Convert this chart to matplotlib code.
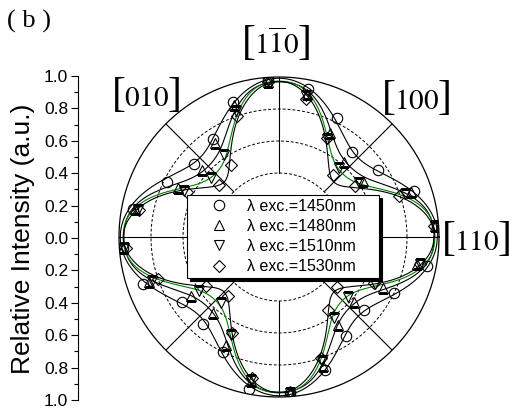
import numpy as np
import matplotlib
matplotlib.use("Agg")
import matplotlib.pyplot as plt

plt.rcParams['font.family'] = ['Liberation Sans', 'DejaVu Sans']
plt.rcParams['mathtext.fontset'] = 'stix'

# polarizer angle (deg) and relative intensities
angles = [4, 19, 34, 49, 64, 79, 94, 109, 124, 139, 154, 169,
          184, 199, 214, 229, 244, 259, 274, 289, 304, 319, 334, 349]

r_1450 = [0.99, 0.89, 0.75, 0.70, 0.83, 0.94, 0.99, 0.89, 0.74, 0.70, 0.78, 0.93,
          0.98, 0.90, 0.73, 0.72, 0.80, 0.97, 0.99, 0.88, 0.75, 0.70, 0.80, 0.94]
r_1480 = [0.98, 0.87, 0.63, 0.62, 0.72, 0.91, 0.97, 0.87, 0.71, 0.64, 0.70, 0.92,
          0.98, 0.86, 0.66, 0.63, 0.75, 0.92, 0.98, 0.85, 0.66, 0.62, 0.72, 0.88]
r_1510 = [0.98, 0.83, 0.60, 0.57, 0.68, 0.90, 0.98, 0.83, 0.62, 0.56, 0.66, 0.90,
          0.97, 0.84, 0.60, 0.55, 0.68, 0.91, 0.98, 0.82, 0.61, 0.57, 0.67, 0.90]
r_1530 = [0.97, 0.79, 0.57, 0.51, 0.69, 0.88, 0.97, 0.80, 0.54, 0.50, 0.64, 0.89,
          0.96, 0.80, 0.55, 0.49, 0.67, 0.90, 0.97, 0.80, 0.55, 0.48, 0.66, 0.90]

labels = ['λ exc.=1450nm', 'λ exc.=1480nm', 'λ exc.=1510nm', 'λ exc.=1530nm']
markers = ['o', '^', 'v', 'D']
line_colors = ['black', 'black', 'green', 'black']
dir_labels = [r'$1\overline{1}0$', '$010$', '$100$', '$110$']
dir_pos = [(277, 44), (147, 96), (417, 99), (477, 240)]

W, H = 514, 408
fig = plt.figure(figsize=(5.14, 4.08), dpi=100)

# polar frame: centre (279, 237) px, radius 160 px
cx, cy, rad = 279, 237, 160
ax = fig.add_axes([(cx - rad) / W, 1 - (cy + rad) / H, 2 * rad / W, 2 * rad / H],
                  projection='polar')
ax.set_ylim(0, 1)
ax.grid(False)
ax.set_xticklabels([])
ax.set_yticklabels([])
ax.tick_params(length=0)
ax.spines['polar'].set_linewidth(0.9)

t = np.linspace(0, 2 * np.pi, 1441)
for rr in [0.2, 0.4, 0.6, 0.8]:
    ax.plot(t, np.full_like(t, rr), ls=(0, (3, 2)), color='black', lw=0.7)
for a in range(0, 360, 45):
    ax.plot([np.radians(a)] * 2, [0.4, 1.0], color='black', lw=0.8)


def peaks(deg, w, p):
    # four peaks along the <110> axes
    g = 0
    for ax_deg in (0, 90, 180, 270, 360, -90):
        g = g + np.exp(-(np.abs(deg - ax_deg) / w) ** p)
    return g


th_deg = np.array(angles, dtype=float)
t_deg = np.degrees(t)
handles = []
for r, m, c, lab in zip([r_1450, r_1480, r_1510, r_1530], markers, line_colors, labels):
    r = np.array(r)
    best = None
    for w in np.arange(10, 40, 0.5):
        for p in np.arange(1.2, 4.01, 0.1):
            A = np.column_stack([np.ones_like(th_deg), peaks(th_deg, w, p)])
            coef, *_ = np.linalg.lstsq(A, r, rcond=None)
            err = np.sum((A @ coef - r) ** 2)
            if best is None or err < best[0]:
                best = (err, w, p, coef)
    _, w, p, coef = best
    fit = coef[0] + coef[1] * peaks(t_deg, w, p)
    ax.plot(t, np.clip(fit, 0, 1), color=c, lw=0.8, zorder=3)
    h, = ax.plot(np.radians(th_deg), r, ls='none', marker=m, mfc='none', mec='black',
                 mew=0.8, ms=7.5 if m != 'D' else 6.5, zorder=4, label=lab)
    handles.append(h)

leg = fig.legend(handles=handles, loc='center', mode='expand',
                 bbox_to_anchor=(187 / W, 1 - 278 / H, 192 / W, 83 / H), fontsize=11.5,
                 frameon=True, fancybox=False, edgecolor='black', framealpha=1,
                 shadow={'color': 'black', 'alpha': 1}, handlelength=3.5,
                 handletextpad=0.0, labelspacing=0.32, borderpad=0.25,
                 borderaxespad=0)
leg.get_frame().set_linewidth(0.8)

# crystal direction labels: digits plus tall brackets
for s, (x, y) in zip(dir_labels, dir_pos):
    yb = 1 - (y + 10) / H
    fig.text(x / W, yb, s, fontsize=21, ha='center', va='baseline')
    fig.text((x - 21) / W, yb, '[', fontsize=30, ha='right', va='baseline',
             family=['Liberation Serif'])
    fig.text((x + 21) / W, yb, ']', fontsize=30, ha='left', va='baseline',
             family=['Liberation Serif'])

fig.text(29 / W, 1 - 21 / H, '( b )', fontsize=19, ha='center', va='center',
         family=['Liberation Serif'])

# left intensity scale
axl = fig.add_axes([78 / W, 1 - 400 / H, 0.001, 324 / H])
axl.set_ylim(-1, 1)
for s in ['top', 'right', 'bottom']:
    axl.spines[s].set_visible(False)
axl.spines['left'].set_linewidth(0.8)
axl.set_xticks([])
yt = np.round(np.arange(-1, 1.01, 0.2), 1)
axl.set_yticks(yt)
axl.set_yticklabels([f'{abs(v):.1f}' for v in yt], fontsize=12.5)
axl.set_yticks(np.round(np.arange(-0.9, 0.91, 0.2), 1), minor=True)
axl.tick_params(axis='y', which='major', direction='out', length=5, width=0.8, pad=2)
axl.tick_params(axis='y', which='minor', direction='out', length=3, width=0.8)
fig.text(23 / W, 1 - 239 / H, 'Relative Intensity (a.u.)', rotation=90,
         fontsize=19, ha='center', va='center')

fig.savefig('out.png', dpi=100)
